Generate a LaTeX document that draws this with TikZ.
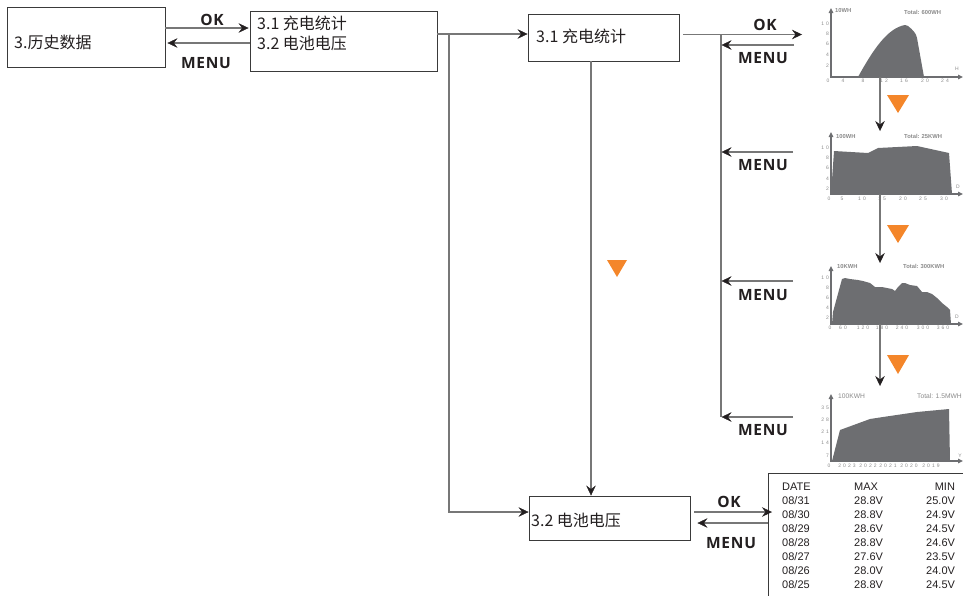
\documentclass[tikz,border=0pt]{standalone}
\usepackage{fontspec}
\setmainfont{Liberation Sans}
\newfontfamily\cjk{Noto Sans CJK SC}
\newfontfamily\okfont[LetterSpace=5]{Open Sans}
\newfontfamily\tabfont{Liberation Sans}
\newfontfamily\tickfont[LetterSpace=40]{Liberation Sans}
\usetikzlibrary{arrows.meta}
\definecolor{linegray}{HTML}{777777}
\definecolor{boxgray}{HTML}{3A3A3A}
\definecolor{chartgray}{HTML}{6D6E71}
\definecolor{ticktxt}{HTML}{8A8A8A}
\definecolor{orng}{HTML}{F4862A}
\definecolor{ink}{HTML}{231F20}
\tikzset{
  tipb/.tip={Stealth[length=10pt,width=9.5pt,inset=3.5pt,color=ink,fill=ink,line width=0.4pt]}
}
\begin{document}
\begin{tikzpicture}[x=1pt,y=-1pt,
  box/.style={draw=boxgray,line width=0.9pt,rectangle,inner sep=0pt},
  cjktxt/.style={font=\cjk\fontsize{16}{20}\selectfont,inner sep=0pt,anchor=west,text=ink},
  conn/.style={draw=linegray,line width=1.2pt,-tipb},
  plainline/.style={draw=linegray,line width=1.2pt},
  keylbl/.style={font=\okfont\bfseries\fontsize{15.5}{17}\selectfont,text=ink,inner sep=0pt},
  axis/.style={draw=chartgray,line width=1.3pt,-{Triangle[length=5pt,width=4.5pt]}},
  chartfill/.style={fill=chartgray,draw=none},
  unitlbl/.style={font=\fontsize{5.8}{6}\selectfont\bfseries,text=ticktxt,inner sep=0pt,anchor=west},
  unitlblb/.style={font=\fontsize{6.7}{7}\selectfont,text=ticktxt,inner sep=0pt,anchor=west},
  ticklbl/.style={font=\tickfont\fontsize{5}{6}\selectfont,text=ticktxt,inner sep=0pt},
  tri/.style={fill=orng,draw=none},
]
\useasboundingbox (0,0) rectangle (963,595);

% ---------- boxes ----------
\node[box,minimum width=158pt,minimum height=60pt] (boxA) at (86,37) {};
\node[cjktxt] (txtA) at (14,42) {3.历史数据};

\node[box,minimum width=187pt,minimum height=60pt] (boxB) at (343.5,41) {};
\node[cjktxt] (txtB1) at (257,23) {3.1 充电统计};
\node[cjktxt] (txtB2) at (257,43.5) {3.2 电池电压};

\node[box,minimum width=151pt,minimum height=47pt] (boxC) at (603.5,37.5) {};
\node[cjktxt] (txtC) at (536,36) {3.1 充电统计};

\node[box,minimum width=161pt,minimum height=44pt] (boxD) at (609.5,518) {};
\node[cjktxt] (txtD) at (531,520) {3.2 电池电压};

\node[draw=boxgray,line width=0.9pt,inner sep=0pt,minimum width=210pt,minimum height=140pt,anchor=north west] (tbl) at (768,473) {};
\node[anchor=north west,inner sep=0pt,font=\tabfont\fontsize{11}{14}\selectfont,text=ink] (tbltext) at (782,480.5)
{\begin{tabular}{@{}p{72pt}@{}p{72pt}@{}r@{}}
DATE & MAX & MIN\\
08/31 & 28.8V & 25.0V\\
08/30 & 28.8V & 24.9V\\
08/29 & 28.6V & 24.5V\\
08/28 & 28.8V & 24.6V\\
08/27 & 27.6V & 23.5V\\
08/26 & 28.0V & 24.0V\\
08/25 & 28.8V & 24.5V
\end{tabular}};

% ---------- A <-> B ----------
\draw[conn] ([yshift=9pt]boxA.east) -- ([yshift=9pt,xshift=-1pt]boxA.east -| boxB.west);
\draw[conn] ([yshift=-2pt]boxB.west) -- ([yshift=-2pt,xshift=2pt]boxB.west -| boxA.east);
\node[keylbl] (okA) at (212,20) {OK};
\node[keylbl] (menuA) at (206,63) {MENU};

% ---------- B -> C, D ----------
\coordinate (j1) at (449,34);
\draw[plainline] ([yshift=7pt]boxB.east) -- (j1);
\draw[conn] (j1) -- (j1 -| boxC.west);
\draw[conn] (j1) |- ([yshift=6pt]boxD.west);

% ---------- C -> D ----------
\coordinate (vx) at (591,0);
\draw[conn] (boxC.south -| vx) -- (boxD.north -| vx);
\fill[tri] (607,260) -- (627,260) -- (617,277) -- cycle;

% ---------- C <-> charts ----------
\coordinate (okC) at (802,34.5);
\draw[conn] ([xshift=4pt,yshift=3pt]boxC.east) -- (okC);
\node[keylbl] (okC1) at (765,25) {OK};
\coordinate (vtop) at (721,34.5);
\coordinate (vbot) at (721,417);
\draw[plainline] (vtop) -- (vbot);
\coordinate (m0) at (794,45);
\coordinate (m1) at (793,152);
\coordinate (m2) at (793,281);
\coordinate (m3) at (793,417);
\foreach \m in {m0,m1,m2,m3} \draw[conn] (\m) -- ([xshift=0.5pt]\m -| vtop);
\node[keylbl] (menuC0) at (763,58) {MENU};
\node[keylbl] (menuC1) at (763,165) {MENU};
\node[keylbl] (menuC2) at (763,295) {MENU};
\node[keylbl] (menuC3) at (763,430) {MENU};

% ---------- D <-> table ----------
\draw[conn] ([xshift=4pt,yshift=6pt]boxD.east) -- ([xshift=4pt,yshift=6pt]boxD.east -| tbl.west);
\draw[conn] ([yshift=-5pt]boxD.east -| tbl.west) -- ([xshift=7pt,yshift=-5pt]boxD.east);
\node[keylbl] (okD) at (729,502) {OK};
\node[keylbl] (menuD) at (731,543) {MENU};

% ---------- chart 1 ----------
\fill[chartfill] (858,77) .. controls (874,48) and (888,28) .. (905,25) -- (908,26) .. controls (913,30) and (916,33) .. (917,38) -- (924,77) -- cycle;
\coordinate (c1o) at (831,77);
\draw[axis] (c1o) -- (831,8);
\draw[axis] ([xshift=-0.65pt]c1o) -- (963,77);
\node[unitlbl] (u1) at (835,11) {10WH};
\node[unitlbl] (t1) at (904,12) {Total: 600WH};
\foreach \v/\y in {10/24,8/34,6/44,4/55,2/66} \node[ticklbl,anchor=east] (y1-\v) at (829,\y) {\v};
\foreach \v/\x in {0/828,4/843,8/863,12/884,16/904,20/925,24/945} \node[ticklbl] (x1-\v) at (\x,81) {\v};
\node[ticklbl] (h1) at (957,69) {H};
\coordinate (a1s) at (880,77);
\coordinate (a1e) at (880,131);
\draw[conn] (a1s) -- (a1e);
\fill[tri] (887,95) -- (909,95) -- (898,113) -- cycle;

% ---------- chart 2 ----------
\fill[chartfill] (831,194) -- (834,151) -- (868,153) -- (878,148) -- (917,146) -- (949,153) -- (952,194) -- cycle;
\coordinate (c2o) at (831,194);
\draw[axis] (c2o) -- (831,132);
\draw[axis] ([xshift=-0.65pt]c2o) -- (963,194);
\node[unitlbl] (u2) at (836,136) {100WH};
\node[unitlbl] (t2) at (904,136) {Total: 25KWH};
\foreach \v/\y in {10/148,8/158,6/168,4/179,2/189} \node[ticklbl,anchor=east] (y2-\v) at (829,\y) {\v};
\foreach \v/\x in {0/829,5/842,10/862,15/882,20/903,25/923,30/944} \node[ticklbl] (x2-\v) at (\x,199) {\v};
\node[ticklbl] (d2) at (958,187) {D};
\coordinate (a2s) at (880,194);
\coordinate (a2e) at (880,263);
\draw[conn] (a2s) -- (a2e);
\fill[tri] (887,225) -- (909,225) -- (898,243) -- cycle;

% ---------- chart 3 ----------
\fill[chartfill] (832,324) -- (833,312) -- (842,279) -- (845,278) -- (850,279) -- (858,280) -- (863,281) -- (870,283) -- (875,287) -- (882,287) -- (887,288) -- (892,289) -- (895,291) -- (898,287) -- (902,283) -- (905,283) -- (910,285) -- (917,286) -- (922,292) -- (927,292) -- (932,294) -- (937,298) -- (942,303) -- (947,307) -- (950,310) -- (951,324) -- cycle;
\coordinate (c3o) at (831,324);
\draw[axis] (c3o) -- (831,266);
\draw[axis] ([xshift=-0.65pt]c3o) -- (963,324);
\node[unitlbl] (u3) at (837,266) {10KWH};
\node[unitlbl] (t3) at (903,266) {Total: 300KWH};
\foreach \v/\y in {10/278,8/288,6/298,4/308,2/318} \node[ticklbl,anchor=east] (y3-\v) at (829,\y) {\v};
\foreach \v/\x in {0/830,60/843,120/863,180/882,240/902,300/923,360/943} \node[ticklbl] (x3-\v) at (\x,328) {\v};
\node[ticklbl] (d3) at (957,317) {D};
\coordinate (a3s) at (880,324);
\coordinate (a3e) at (880,386);
\draw[conn] (a3s) -- (a3e);
\fill[tri] (887,355) -- (909,355) -- (898,374) -- cycle;

% ---------- chart 4 ----------
\fill[chartfill] (832,461) -- (840,430) -- (870,419) -- (883,417) -- (917,412) -- (949,409) -- (950,461) -- cycle;
\coordinate (c4o) at (831,461);
\draw[axis] (c4o) -- (831,394);
\draw[axis] ([xshift=-0.65pt]c4o) -- (963,461);
\node[unitlblb] (u4) at (838,396) {100KWH};
\node[unitlblb] (t4) at (917,396) {Total: 1.5MWH};
\foreach \v/\y in {35/408,28/420,21/432,14/443,7/456} \node[ticklbl,anchor=east] (y4-\v) at (829,\y) {\v};
\foreach \v/\x in {0/829,2023/847,2022/868,2021/888,2020/909,2019/931} \node[ticklbl] (x4-\v) at (\x,466) {\v};
\node[ticklbl] (yy4) at (960,456) {Y};
\end{tikzpicture}
\end{document}
